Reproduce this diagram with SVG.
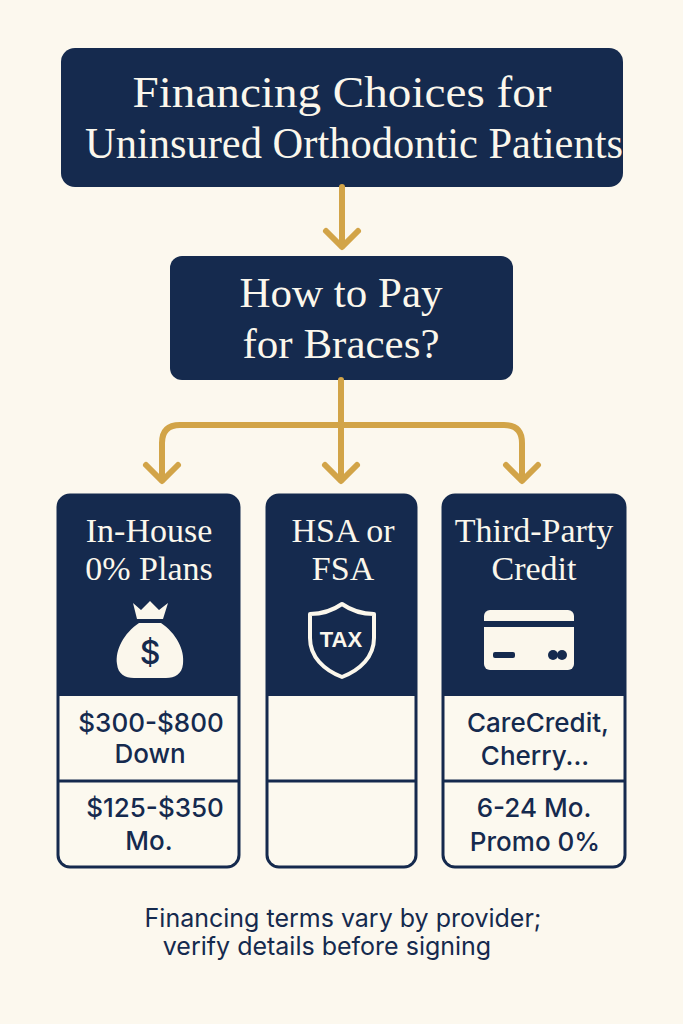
<svg xmlns="http://www.w3.org/2000/svg" width="683" height="1024" viewBox="0 0 683 1024">
<style>
.bg{fill:#FCF8EE}
.navy{fill:#152A4E}
.title{font-family:"Liberation Serif","Times New Roman",serif;fill:#FBF7EC;text-anchor:middle}
.cell{font-family:Inter,"Liberation Sans",sans-serif;font-weight:500;fill:#152A4E;text-anchor:middle;font-size:26px}
.foot{font-family:Inter,"Liberation Sans",sans-serif;fill:#152A4E;text-anchor:middle;font-size:25px}
.conn{stroke:#D2A448;stroke-width:6;fill:none;stroke-linecap:round;stroke-linejoin:round}
.frame{fill:#FCF9EF;stroke:#152A4E;stroke-width:3}
.line{stroke:#152A4E;stroke-width:3}
.icon{fill:#FBF7EC}
</style>
<rect class="bg" x="0" y="0" width="683" height="1024"/>

<g id="title-node">
<rect class="navy" x="61" y="48" width="562" height="139" rx="14"/>
<text class="title" x="342" y="107" font-size="45" textLength="419" lengthAdjust="spacingAndGlyphs">Financing Choices for</text>
<text class="title" x="354" y="158" font-size="45" textLength="538" lengthAdjust="spacingAndGlyphs">Uninsured Orthodontic Patients</text>
</g>

<g id="question-node">
<rect class="navy" x="170" y="256" width="343" height="124" rx="12"/>
<text class="title" x="341" y="307" font-size="43">How to Pay</text>
<text class="title" x="341" y="358" font-size="43">for Braces?</text>
</g>

<g id="connectors">
<path class="conn" d="M342,187 V246"/>
<path class="conn" d="M326,231 L342,247 L358,231"/>
<path class="conn" d="M341,380 V480"/>
<path class="conn" d="M325,465 L341,481 L357,465"/>
<path class="conn" d="M162,480 V443 Q162,425 180,425 H504 Q522,425 522,443 V480"/>
<path class="conn" d="M146,465 L162,481 L178,465"/>
<path class="conn" d="M506,465 L522,481 L538,465"/>
</g>

<g id="inhouse-node">
<rect class="frame" x="58" y="495" width="181" height="372" rx="12"/>
<path class="navy" d="M58,696 V507 A12,12 0 0 1 70,495 H227 A12,12 0 0 1 239,507 V696 Z"/>
<line class="line" x1="58" y1="781" x2="239" y2="781"/>
<text class="title" x="149" y="542" font-size="34">In-House</text>
<text class="title" x="149" y="580" font-size="34">0% Plans</text>
<g id="money-bag">
<path class="icon" d="M133,603 L141,610 L150,601 L159,610 L168,603 L163,619 L137,619 Z"/>
<path class="icon" d="M139,623 H161 C176,633 185,650 183,664 C182,674 175,678 166,678 H134 C125,678 118,674 117,664 C115,650 124,633 139,623 Z"/>
<text x="150" y="664" font-family="Inter,'Liberation Sans',sans-serif" font-size="32" font-weight="500" fill="#152A4E" text-anchor="middle">$</text>
</g>
<text class="cell" x="151" y="732">$300-$800</text>
<text class="cell" x="150" y="763">Down</text>
<text class="cell" x="155" y="817">$125-$350</text>
<text class="cell" x="149" y="850">Mo.</text>
</g>

<g id="hsa-node">
<rect class="frame" x="267" y="495" width="149" height="372" rx="12"/>
<path class="navy" d="M267,696 V507 A12,12 0 0 1 279,495 H404 A12,12 0 0 1 416,507 V696 Z"/>
<line class="line" x1="267" y1="781" x2="416" y2="781"/>
<text class="title" x="343" y="542" font-size="34">HSA or</text>
<text class="title" x="343" y="580" font-size="34">FSA</text>
<g id="shield">
<path d="M342,604 C352,611 363,614 374,614 L374,638 C374,657 360,670 342,677 C324,670 310,657 310,638 L310,614 C321,614 332,611 342,604 Z" fill="none" stroke="#FBF7EC" stroke-width="4" stroke-linejoin="round"/>
<text x="341" y="647" font-family="'Liberation Sans',Arial,sans-serif" font-size="22" font-weight="700" fill="#FBF7EC" text-anchor="middle">TAX</text>
</g>
</g>

<g id="credit-node">
<rect class="frame" x="443" y="495" width="182" height="372" rx="12"/>
<path class="navy" d="M443,696 V507 A12,12 0 0 1 455,495 H613 A12,12 0 0 1 625,507 V696 Z"/>
<line class="line" x1="443" y1="781" x2="625" y2="781"/>
<text class="title" x="534" y="542" font-size="34">Third-Party</text>
<text class="title" x="534" y="580" font-size="34">Credit</text>
<g id="card">
<rect class="icon" x="484" y="610" width="90" height="60" rx="6"/>
<rect class="navy" x="484" y="621" width="90" height="6"/>
<rect class="navy" x="493" y="652" width="22" height="6" rx="2"/>
<circle class="navy" cx="553" cy="655" r="5"/>
<circle class="navy" cx="562" cy="655" r="5"/>
</g>
<text class="cell" x="538" y="732">CareCredit,</text>
<text class="cell" x="535" y="765">Cherry...</text>
<text class="cell" x="534" y="817">6-24 Mo.</text>
<text class="cell" x="535" y="851">Promo 0%</text>
</g>

<g id="footer">
<text class="foot" x="343" y="927">Financing terms vary by provider;</text>
<text class="foot" x="327" y="955">verify details before signing</text>
</g>
</svg>
